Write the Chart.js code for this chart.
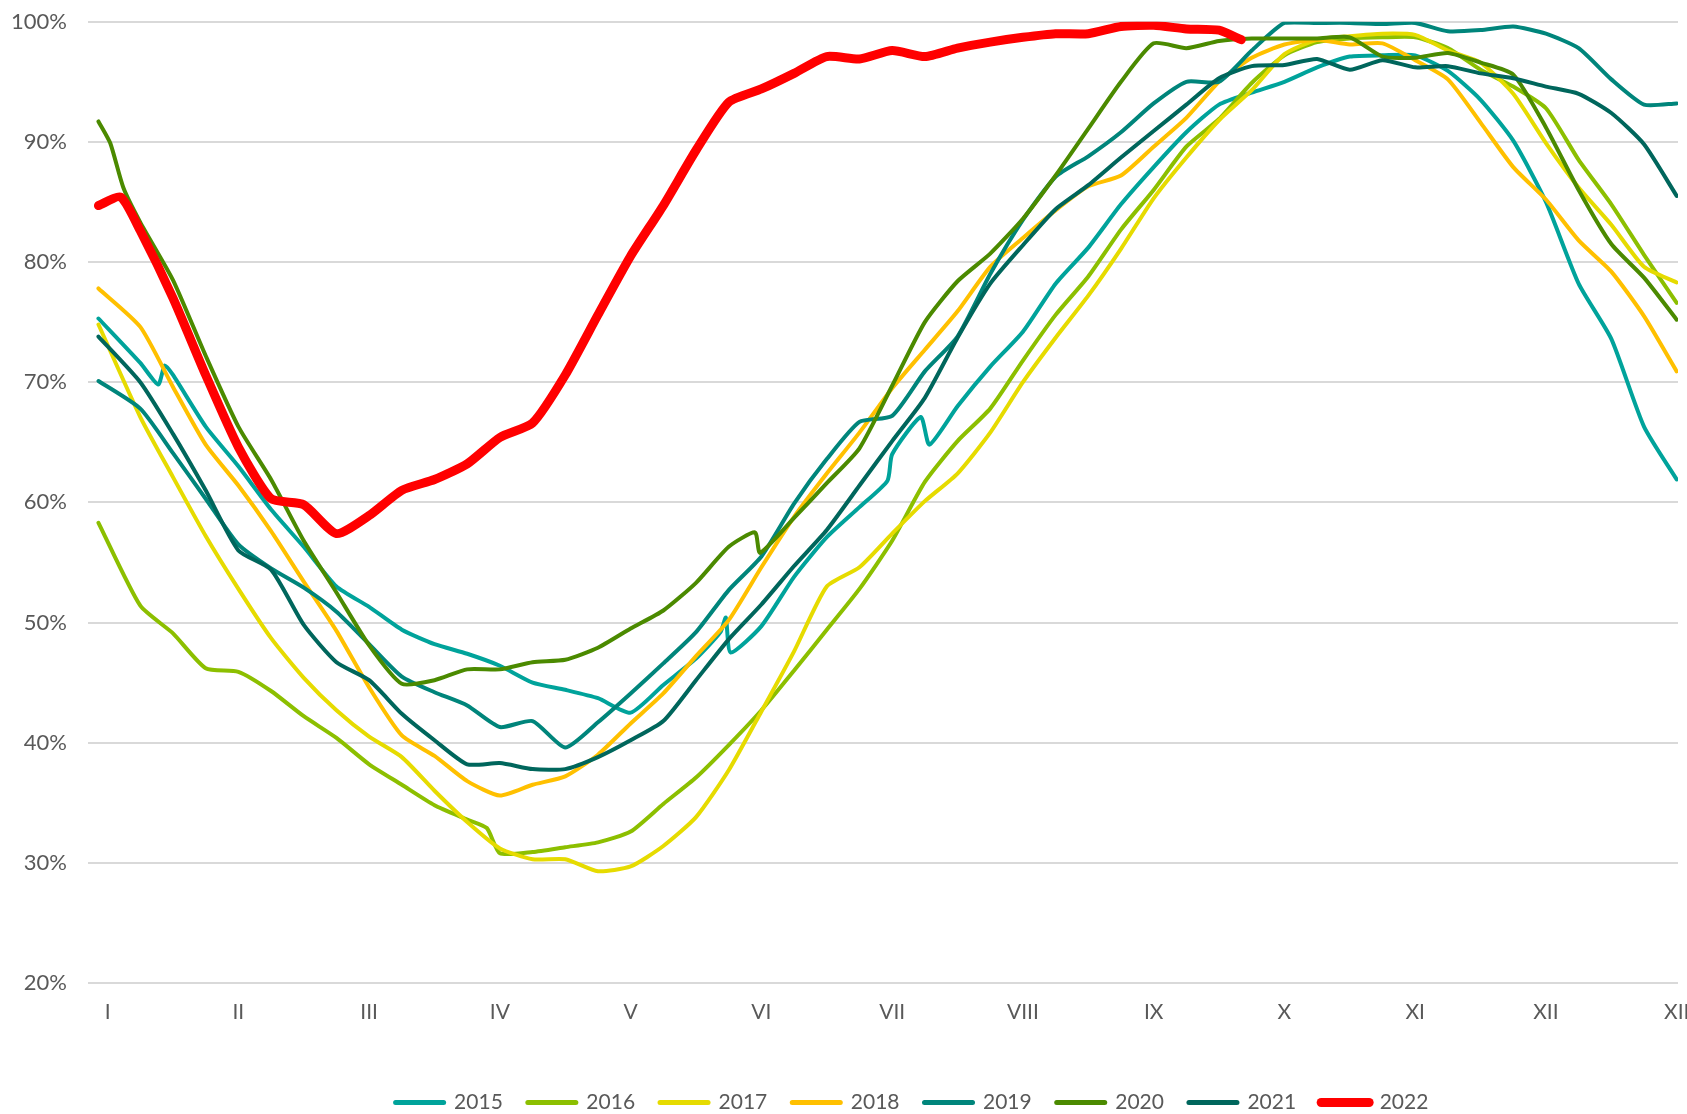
<!DOCTYPE html>
<html>
<head>
<meta charset="utf-8">
<title>Fill level 2015-2022</title>
<script src="https://cdn.jsdelivr.net/npm/chart.js@4.4.1/dist/chart.umd.min.js"></script>
<style>
  html, body { margin: 0; padding: 0; background: #fff; }
  #wrap { position: relative; width: 1687px; height: 1114px; }
</style>
</head>
<body>
<div id="wrap"><canvas id="chart"></canvas></div>
<script>
/* ── Axis labels ─────────────────────────────────────────── */
const monthLabels = ['I', 'II', 'III', 'IV', 'V', 'VI', 'VII', 'VIII', 'IX', 'X', 'XI', 'XII', 'XII'];

// sample positions, in months from the "I" label
const months = [-0.07, 0.25, 0.5, 0.75, 1, 1.25, 1.5, 1.75, 2, 2.25, 2.5, 2.75, 3, 3.25, 3.5, 3.75,
  4, 4.25, 4.5, 4.75, 5, 5.25, 5.5, 5.75, 6, 6.25, 6.5, 6.75, 7, 7.25, 7.5, 7.75,
  8, 8.25, 8.5, 8.75, 9, 9.25, 9.5, 9.75, 10, 10.25, 10.5, 10.75, 11, 11.25, 11.5, 11.75, 12];

/* ── Series values (%) ───────────────────────────────────── */
const y2015 = [75.3, 71.6, 70.6, 66.3, 63.0, 59.4, 56.3, 53.0, 51.3, 49.4, 48.2, 47.4, 46.4, 45.0, 44.4, 43.7,
  42.5, 44.8, 47.0, null, 49.7, 53.8, 57.1, 59.6, 64.0, null, 68.0, 71.3, 74.2, 78.2, 81.2, 84.8,
  87.9, 90.8, 93.1, 94.1, 95.0, 96.2, 97.1, 97.2, 97.2, 95.9, 93.5, 90.1, 85.0, 78.2, 73.6, 66.3, 61.9];
const extra2015 = [[0.387, 69.8], [0.437, 71.4], [4.687, 49.2], [4.728, 50.4], [4.765, 47.5],
  [5.964, 61.8], [6.219, 67.1], [6.285, 64.8]];

const y2016 = [58.3, 51.4, 49.1, 46.2, 45.9, 44.3, 42.2, 40.4, 38.2, 36.5, 34.8, 33.6, 30.8, 30.9, 31.3, 31.7,
  32.6, 34.9, 37.1, 39.8, 42.7, 46.0, 49.4, 52.8, 56.8, 61.7, 65.1, 67.8, 71.8, 75.6, 78.8, 82.7,
  86.0, 89.6, 91.9, 94.9, 97.2, 98.3, 98.6, 98.7, 98.7, 97.8, 96.0, 94.6, 92.8, 88.5, 84.8, 80.6, 76.6];
const extra2016 = [[2.9, 32.9]];

const y2017 = [74.8, 67.1, 62.1, 57.2, 52.8, 48.7, 45.4, 42.7, 40.5, 38.8, 36.0, 33.4, 31.2, 30.3, 30.3, 29.3,
  29.7, 31.4, 33.8, 37.7, 42.6, 47.6, 53.0, 54.6, 57.4, 60.1, 62.4, 65.8, 70.0, 73.7, 77.2, 81.1,
  85.3, 88.7, 91.8, 94.3, 97.3, 98.5, 98.8, 99.0, 98.9, 97.6, 96.6, 94.0, 89.9, 86.2, 83.1, 79.6, 78.3];

const y2018 = [77.8, 74.6, 69.6, 64.8, 61.4, 57.6, 53.4, 49.3, 44.6, 40.6, 38.9, 36.8, 35.6, 36.5, 37.2, 39.0,
  41.6, 44.1, 47.2, 50.2, 54.6, 58.8, 62.4, 65.8, 69.5, 72.7, 75.9, 79.6, 82.0, 84.3, 86.3, 87.2,
  89.6, 92.0, 95.0, 97.0, 98.1, 98.5, 98.1, 98.2, 96.8, 95.2, 91.6, 87.9, 85.2, 81.8, 79.2, 75.5, 70.9];

const y2019 = [70.1, 67.8, 64.1, 60.3, 56.5, 54.5, 52.9, 50.9, 48.2, 45.5, 44.2, 43.1, 41.3, 41.8, 39.6, 41.7,
  44.1, 46.6, 49.2, 52.7, 55.5, 59.9, 63.6, 66.7, 67.2, 70.9, 73.8, 79.0, 83.5, 87.1, 88.8, 90.8,
  93.2, 95.0, 95.0, 97.6, 99.9, 99.9, 99.9, 99.8, 99.9, 99.2, 99.3, 99.6, 99.0, 97.8, 95.2, 93.1, 93.2];

const y2020 = [91.7, 83.3, 78.5, 72.2, 66.3, 61.9, 56.8, 52.5, 48.1, 44.9, 45.2, 46.1, 46.1, 46.7, 46.9, 47.9,
  49.5, 51.0, 53.3, 56.3, null, 58.7, 61.6, 64.5, 69.7, 75.0, 78.4, 80.7, 83.6, 87.2, 91.1, 95.0,
  98.2, 97.8, 98.4, 98.6, 98.6, 98.6, 98.7, 97.1, 97.0, 97.4, 96.6, 95.6, 91.2, 86.0, 81.5, 78.7, 75.2];
const extra2020 = [[0.02, 89.9], [0.12, 86.2], [4.951, 57.5], [4.99, 55.8]];

const y2021 = [73.8, 70.0, 65.7, 61.0, 56.0, 54.4, 49.8, 46.7, 45.2, 42.4, 40.2, 38.2, 38.3, 37.8, 37.8, 38.8,
  40.2, 41.8, 45.2, 48.6, 51.5, 54.7, 57.7, 61.4, 65.1, 68.7, 73.7, 78.2, 81.4, 84.4, 86.4, 88.7,
  90.9, 93.1, 95.3, 96.3, 96.4, 96.9, 96.0, 96.8, 96.2, 96.3, 95.7, 95.3, 94.6, 94.0, 92.4, 89.8, 85.5];

// 2022 stops in September
const y2022 = [84.7, 82.6, 77.0, 70.6, 64.6, 60.3, 59.8, 57.4, 58.9, 61.0, 61.9, 63.2, 65.4, 66.6, 70.6, 75.6,
  80.5, 84.7, 89.3, 93.3, 94.4, 95.7, 97.1, 96.9, 97.6, 97.1, 97.8, 98.3, 98.7, 99.0, 99.0, 99.6,
  99.7, 99.4, 99.3];
const extra2022 = [[0.1, 85.4], [8.67, 98.5]];

/* ── Build points ────────────────────────────────────────── */
function toPoints(ys, extra) {
  const pts = [];
  ys.forEach((y, i) => { if (y !== null) pts.push({ x: months[i], y }); });
  (extra || []).forEach(([x, y]) => pts.push({ x, y }));
  return pts.sort((a, b) => a.x - b.x);
}

const series = [
  { label: '2015', data: toPoints(y2015, extra2015), color: '#00A39B', width: 4 },
  { label: '2016', data: toPoints(y2016, extra2016), color: '#8CBF00', width: 4 },
  { label: '2017', data: toPoints(y2017),            color: '#E6DB00', width: 4 },
  { label: '2018', data: toPoints(y2018),            color: '#FFC000', width: 4 },
  { label: '2019', data: toPoints(y2019),            color: '#00857B', width: 4 },
  { label: '2020', data: toPoints(y2020, extra2020), color: '#4B8A00', width: 4 },
  { label: '2021', data: toPoints(y2021),            color: '#00665C', width: 4 },
  { label: '2022', data: toPoints(y2022, extra2022), color: '#FF0000', width: 9 },
];

// Legend sits a bit right of centre and low in the reference
const legendShift = {
  id: 'legendShift',
  afterLayout(chart) {
    const lg = chart.legend;
    if (!lg) return;
    lg.left += 73; lg.right += 73;
    lg.top += 9;   lg.bottom += 9;
  }
};

Chart.defaults.font.family = 'Lato, "Open Sans", sans-serif';
Chart.defaults.color = '#595959';

new Chart(document.getElementById('chart'), {
  type: 'line',
  data: {
    datasets: series.map((s, i) => ({
      label: s.label,
      data: s.data,
      borderColor: s.color,
      backgroundColor: s.color,
      borderWidth: s.width,
      borderCapStyle: 'round',
      borderJoinStyle: 'round',
      pointRadius: 0,
      pointHoverRadius: 0,
      pointStyle: 'line',
      pointBorderColor: s.color,
      pointBorderWidth: s.width === 4 ? 5 : 9,
      tension: 0.2,
      fill: false,
      spanGaps: true,
      order: series.length - i,
    })),
  },
  options: {
    responsive: true,
    maintainAspectRatio: false,
    animation: false,
    events: [],
    layout: { padding: { top: 21.7, right: 9, bottom: 0, left: 0 } },
    plugins: {
      tooltip: { enabled: false },
      legend: {
        position: 'bottom',
        labels: {
          usePointStyle: true,
          pointStyleWidth: 48,
          padding: 25,
          color: '#595959',
          font: { size: 21 },
          sort: (a, b) => a.datasetIndex - b.datasetIndex,
          generateLabels(chart) {
            const items = Chart.defaults.plugins.legend.labels.generateLabels(chart);
            items.forEach(it => { it.lineCap = 'round'; });
            return items;
          },
        },
      },
    },
    scales: {
      x: {
        type: 'linear',
        min: -0.15,
        max: 12.01,
        grid: { display: false, drawTicks: false },
        border: { display: false },
        ticks: {
          autoSkip: false,
          maxRotation: 0,
          padding: 17,
          font: { size: 21 },
          color: '#595959',
          callback: v => monthLabels[v] ?? '',
        },
        afterBuildTicks: s => { s.ticks = monthLabels.map((_, i) => ({ value: i })); },
        afterFit: s => { s.height = 75; s.paddingLeft = 0; s.paddingRight = 0; },
      },
      y: {
        min: 20,
        max: 100,
        ticks: {
          stepSize: 10,
          padding: 21,
          font: { size: 22 },
          color: '#595959',
          callback: v => v + '%',
        },
        grid: { color: '#d9d9d9', lineWidth: 2, drawTicks: false },
        border: { display: false },
        afterFit: s => { s.width = 88; s.paddingTop = 0; s.paddingBottom = 0; },
      },
    },
  },
  plugins: [legendShift],
});
</script>
</body>
</html>
